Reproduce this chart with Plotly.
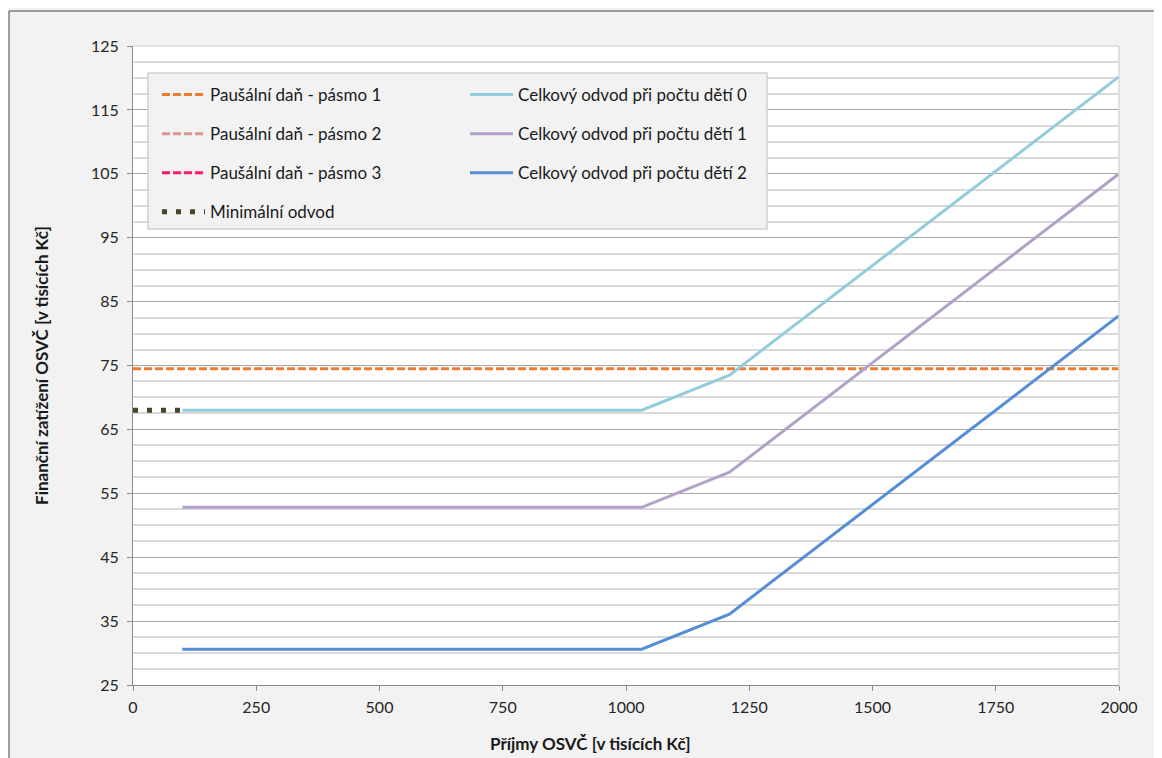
import plotly.graph_objects as go

# ---- data ----
pasmo_x = [0, 2000]
pasmo1_y = [74.5, 74.5]
pasmo2_y = [192.0, 192.0]
pasmo3_y = [312.0, 312.0]

min_x = [0, 100]
min_y = [68.0, 68.0]

prijmy = [100, 1032, 1210, 2000]
deti0 = [68.0, 68.0, 73.5, 120.2]
deti1 = [52.8, 52.8, 58.3, 105.0]
deti2 = [30.6, 30.6, 36.1, 82.8]

FONT = "Lato"
OFF = 8  # page body margin
W, H = 1162 - OFF, 758 - OFF
# plot area in page pixels
PX0, PX1, PY0, PY1 = 133, 1119, 46, 685
L, T = PX0 - OFF, PY0 - OFF
R = OFF + W - PX1
B = OFF + H - PY1
PW, PH = PX1 - PX0, PY1 - PY0

def px2x(px):
    return (px - PX0) / PW

def py2y(py):
    return (PY1 - py) / PH

fig = go.Figure()

dash_p = "8px,3px"
fig.add_trace(go.Scatter(x=pasmo_x, y=pasmo1_y, mode="lines", name="Paušální daň - pásmo 1",
                         line=dict(color="#ED7D31", width=3, dash=dash_p), legend="legend", legendgroup="a1"))
fig.add_trace(go.Scatter(x=pasmo_x, y=pasmo2_y, mode="lines", name="Paušální daň - pásmo 2",
                         line=dict(color="#D99694", width=3, dash=dash_p), legend="legend", legendgroup="a2"))
fig.add_trace(go.Scatter(x=pasmo_x, y=pasmo3_y, mode="lines", name="Paušální daň - pásmo 3",
                         line=dict(color="#FF1A66", width=3, dash=dash_p), legend="legend", legendgroup="a3"))
fig.add_trace(go.Scatter(x=min_x, y=min_y, mode="lines", name="Minimální odvod",
                         line=dict(color="#4A4529", width=5, dash="5px,9px"), legend="legend", legendgroup="a4"))

fig.add_trace(go.Scatter(x=prijmy, y=deti0, mode="lines", name="Celkový odvod při počtu dětí 0",
                         line=dict(color="#93CDDD", width=3), legend="legend2", legendgroup="b1"))
fig.add_trace(go.Scatter(x=prijmy, y=deti1, mode="lines", name="Celkový odvod při počtu dětí 1",
                         line=dict(color="#B3A2C7", width=3), legend="legend2", legendgroup="b2"))
fig.add_trace(go.Scatter(x=prijmy, y=deti2, mode="lines", name="Celkový odvod při počtu dětí 2",
                         line=dict(color="#558ED5", width=3), legend="legend2", legendgroup="b3"))

legend_common = dict(
    bgcolor="rgba(0,0,0,0)", borderwidth=0,
    font=dict(family=FONT, size=17, color="#1a1a1a"),
    itemwidth=43, tracegroupgap=14, traceorder="grouped",
    xanchor="left", yanchor="top", itemclick=False, itemdoubleclick=False,
)

fig.update_layout(
    width=W, height=H,
    margin=dict(l=L, r=R, t=T, b=B),
    paper_bgcolor="#f2f2f2",
    plot_bgcolor="white",
    font=dict(family=FONT, size=16, color="#262626"),
    showlegend=True,
    legend=dict(x=px2x(157), y=py2y(77), **legend_common),
    legend2=dict(x=px2x(465), y=py2y(77), **legend_common),
    xaxis=dict(
        range=[0, 2000], tick0=0, dtick=250, showgrid=False, zeroline=False,
        showline=True, linecolor="#8c8c8c", linewidth=1,
        ticks="outside", ticklen=5, tickcolor="#8c8c8c", ticklabelstandoff=3,
        tickfont=dict(family=FONT, size=16, color="#262626"),
    ),
    yaxis=dict(
        range=[25, 125], tick0=25, dtick=10, zeroline=False,
        showgrid=True, gridcolor="#a6a6a6", gridwidth=1,
        showline=True, linecolor="#8c8c8c", linewidth=1,
        ticks="outside", ticklen=5, tickcolor="#8c8c8c", ticklabelstandoff=5,
        tickfont=dict(family=FONT, size=16, color="#262626"),
        minor=dict(tick0=25, dtick=2.5, showgrid=True, gridcolor="#d9d9d9", gridwidth=1.5, ticks=""),
        title=dict(text="<b>Finanční zatížení OSVČ [v tisících Kč]</b>", standoff=38,
                   font=dict(family=FONT, size=17, color="#1a1a1a")),
    ),
    annotations=[
        dict(text="<b>Příjmy OSVČ [v tisících Kč]</b>", xref="paper", yref="paper",
             x=px2x(590), y=py2y(743), xanchor="center", yanchor="middle", showarrow=False,
             font=dict(family=FONT, size=17, color="#1a1a1a")),
    ],
    shapes=[
        # outer chart frame (left and top edges)
        dict(type="line", xref="paper", yref="paper", layer="below",
             x0=px2x(9), x1=px2x(1175), y0=py2y(11), y1=py2y(11),
             line=dict(color="#7f7f7f", width=1.5)),
        dict(type="line", xref="paper", yref="paper", layer="below",
             x0=px2x(9), x1=px2x(9), y0=py2y(11), y1=py2y(775),
             line=dict(color="#7f7f7f", width=1.5)),
        # plot border (top/right) light
        dict(type="line", xref="paper", yref="paper", layer="above",
             x0=0, x1=1, y0=1, y1=1, line=dict(color="#d9d9d9", width=1.5)),
        dict(type="line", xref="paper", yref="paper", layer="above",
             x0=1, x1=1, y0=0, y1=1, line=dict(color="#d9d9d9", width=1.5)),
        # legend box
        dict(type="rect", xref="paper", yref="paper", layer="above",
             x0=px2x(148), x1=px2x(767), y0=py2y(229), y1=py2y(73),
             fillcolor="#f2f2f2", line=dict(color="#d0d0d0", width=1.5)),
    ],
)

fig.write_html("out.html")
